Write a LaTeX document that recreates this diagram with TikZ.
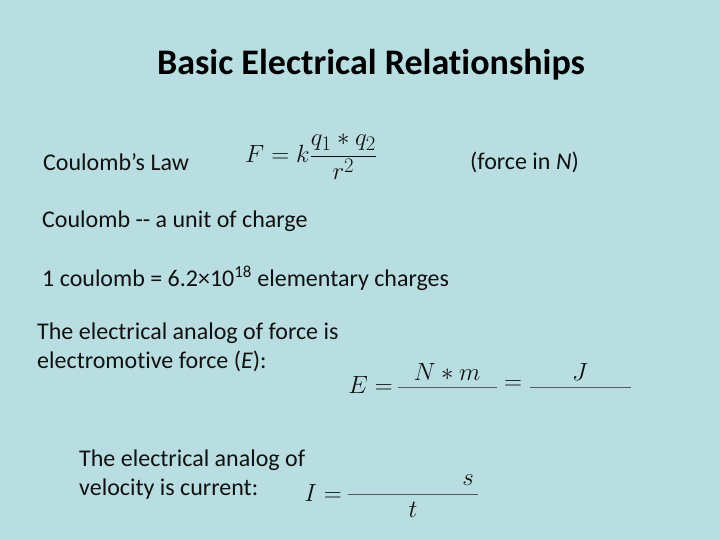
\documentclass[tikz,border=0pt]{standalone}
\usepackage{fontspec}
\setmainfont[Ligatures={NoCommon}]{Carlito}
\definecolor{bg}{HTML}{B9DEE2}
\definecolor{ink}{HTML}{111111}
\begin{document}
\begin{tikzpicture}[x=1pt,y=-1pt,
  txt/.style={anchor=west,inner sep=0pt,font=\fontsize{24}{29}\selectfont,text=ink,align=left},
  mth/.style={inner sep=0pt,font=\fontsize{27}{30}\selectfont,text=ink},
  bar/.style={draw=ink!70,line width=1pt}]
\fill[bg] (0,0) rectangle (720,540);
\useasboundingbox (0,0) rectangle (720,540);
\node[inner sep=0pt,font=\fontsize{36}{40}\selectfont\bfseries] (title) at (371,65) {Basic Electrical Relationships};
\node[txt] (cl) at (43,162) {Coulomb’s Law};
\node[mth,anchor=west,font=\fontsize{32}{36}\selectfont] (f) at (245,157) {$\displaystyle F=k\frac{q_1 * q_2}{r^2}$};
\node[txt] (fn) at (470,162) {(force in \textit{N})};
\node[txt] (cu) at (42,221) {Coulomb -{}- a unit of charge};
\node[txt] (oc) at (42,278) {1 coulomb = 6.2×10\textsuperscript{18} elementary charges};
\node[txt,anchor=north west] (ea) at (37,323) {The electrical analog of force is\\electromotive force (\textit{E}):};
\node[mth,anchor=east] (e) at (393,385) {$E=$};
\coordinate (b1a) at (398,387); \coordinate (b1b) at (497,387);
\draw[bar] (b1a) -- (b1b);
\node[mth] (nm) at (447,372) {$N*m$};
\node[mth] (eq2) at (513,385) {$=$};
\coordinate (b2a) at (530,387); \coordinate (b2b) at (631,387);
\draw[bar] (b2a) -- (b2b);
\node[mth] (j) at (580,372) {$J$};
\node[txt,anchor=north west] (va) at (79,450) {The electrical analog of\\velocity is current:};
\node[mth,anchor=east] (i) at (342,493) {$I=$};
\coordinate (b3a) at (348,494); \coordinate (b3b) at (478,494);
\draw[bar] (b3a) -- (b3b);
\node[mth] (s) at (468,480) {$s$};
\node[mth] (t) at (413,510) {$t$};
\end{tikzpicture}
\end{document}
